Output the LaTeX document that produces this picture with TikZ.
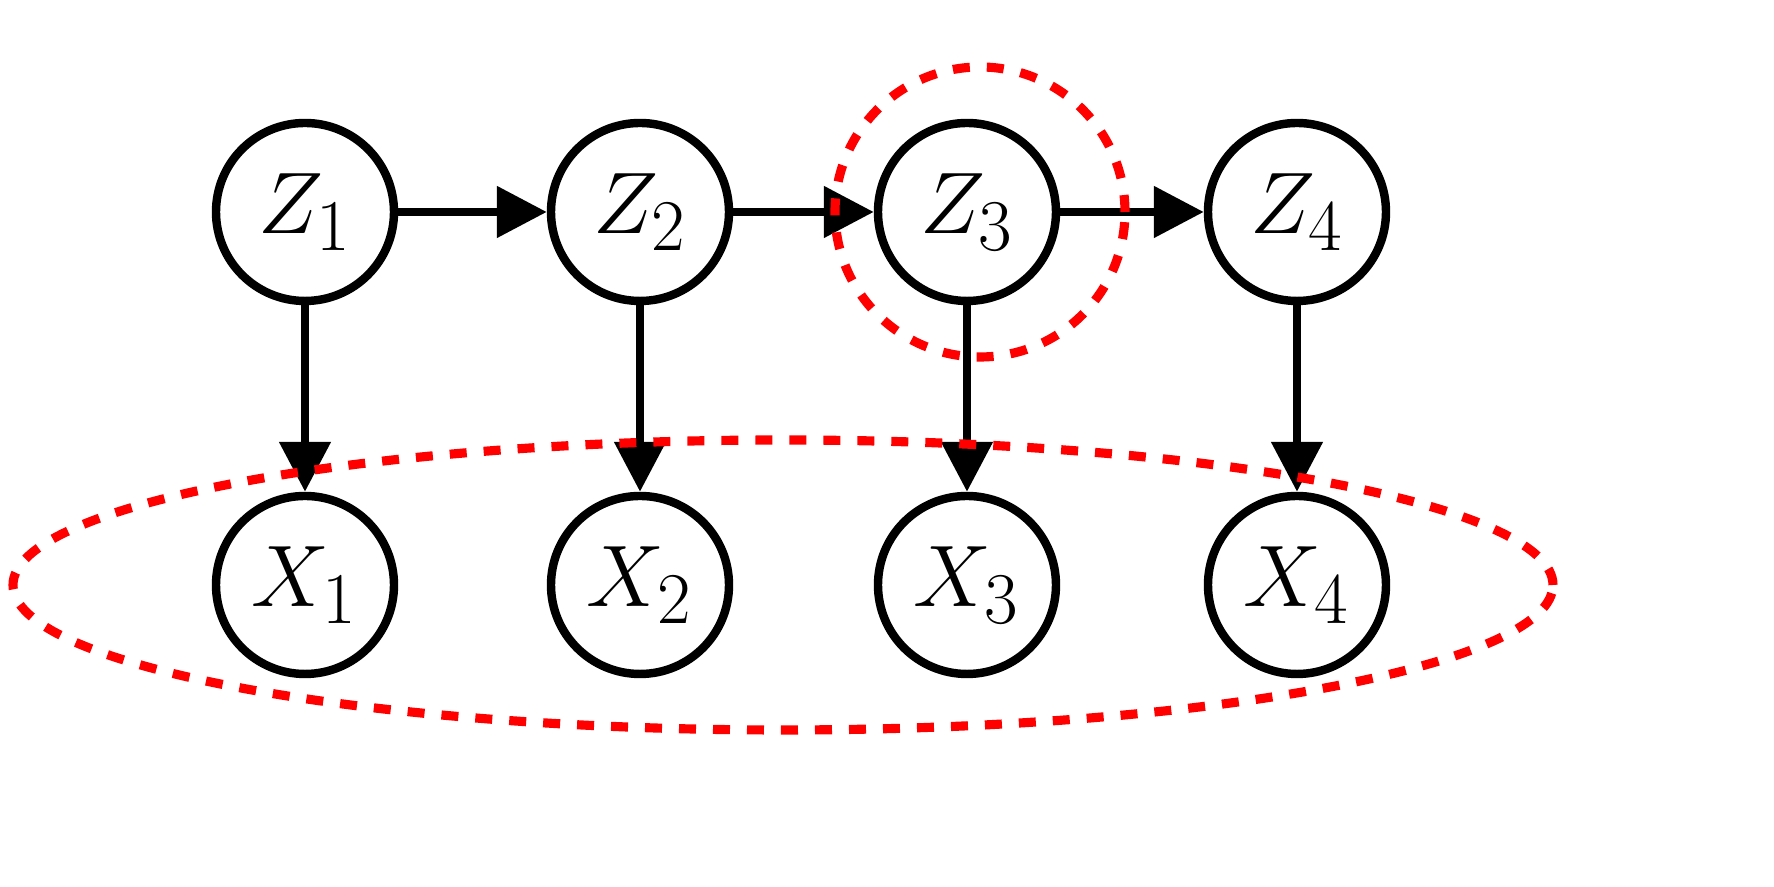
\documentclass[tikz,border=0pt]{standalone}
\usetikzlibrary{arrows.meta}
\begin{document}
\begin{tikzpicture}[
  v/.style={circle,draw,line width=2.4pt,minimum size=1.78cm,inner sep=0pt,font=\fontsize{30}{36}\selectfont},
  e/.style={line width=2.4pt,-{Triangle[length=0.5cm,width=0.5cm]}},
  red dash/.style={draw=red,line width=2.6pt,dash pattern=on 0.17cm off 0.17cm}]
\useasboundingbox (0,0) rectangle (17.74,8.87);
\node[v] (z1) at (3.05,6.75) {$Z_1$};
\node[v] (z2) at (6.40,6.75) {$Z_2$};
\node[v] (z3) at (9.67,6.75) {$Z_3$};
\node[v] (z4) at (12.97,6.75) {$Z_4$};
\node[v] (x1) at (3.05,3.02) {$X_1$};
\node[v] (x2) at (6.40,3.02) {$X_2$};
\node[v] (x3) at (9.67,3.02) {$X_3$};
\node[v] (x4) at (12.97,3.02) {$X_4$};
\draw[e] (z1) -- (z2);
\draw[e] (z2) -- (z3);
\draw[e] (z3) -- (z4);
\draw[e] (z1) -- (x1);
\draw[e] (z2) -- (x2);
\draw[e] (z3) -- (x3);
\draw[e] (z4) -- (x4);
\draw[red dash] (9.80,6.75) circle[radius=1.45];
\draw[red dash] (7.83,3.02) ellipse[x radius=7.70,y radius=1.45];
\end{tikzpicture}
\end{document}
